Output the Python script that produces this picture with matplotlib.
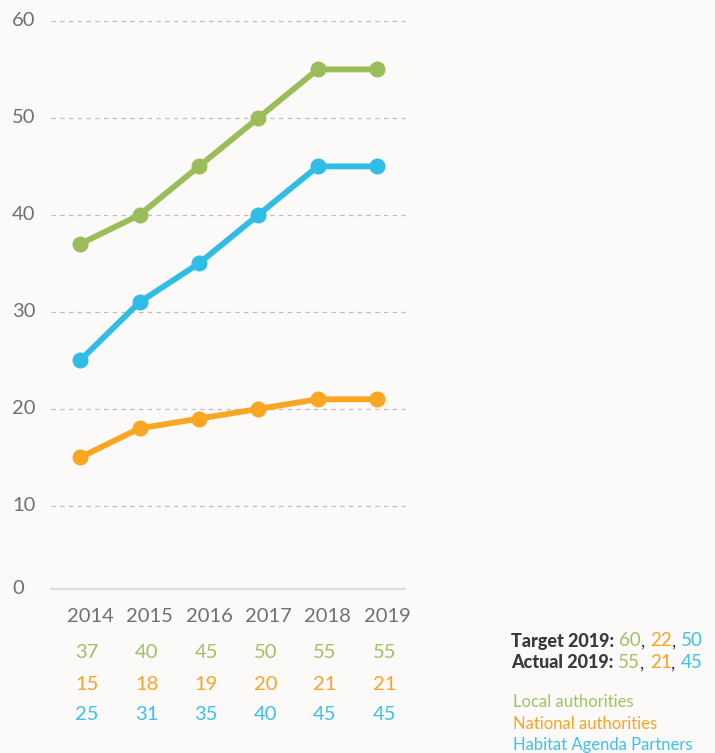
import matplotlib
matplotlib.use('Agg')
import matplotlib.pyplot as plt
from matplotlib import transforms

years = [2014, 2015, 2016, 2017, 2018, 2019]
local = [37, 40, 45, 50, 55, 55]
national = [15, 18, 19, 20, 21, 21]
partners = [25, 31, 35, 40, 45, 45]
yticks = [10, 20, 30, 40, 50, 60]

target_2019 = [60, 22, 50]
actual_2019 = [55, 21, 45]
series_names = ['Local authorities', 'National authorities', 'Habitat Agenda Partners']

green = '#9bbd59'
orange = '#f9a722'
blue = '#30bde5'
text_green = '#9fc264'
text_orange = '#f7a52a'
text_blue = '#3ec1ea'
gray = '#6f7073'
bg = '#fbfaf8'

plt.rcParams['font.family'] = ['Lato', 'DejaVu Sans']

W, H = 715, 753
fig = plt.figure(figsize=(W / 100, H / 100), dpi=100, facecolor=bg)

# axes box in pixels: left 51, right 405, bottom 589, top 18
ax = fig.add_axes([51 / W, 1 - 589 / H, (405 - 51) / W, (589 - 18) / H])
ax.set_facecolor(bg)
ax.set_xlim(2013.51, 2019.47)
ax.set_ylim(1.44, 60.3)

for v in yticks:
    ax.plot([2013.51, 2019.47], [v, v], color='#bdbdbd', lw=0.9,
            dashes=(3.5, 3.5), zorder=1, clip_on=False)

for vals, c in [(local, green), (partners, blue), (national, orange)]:
    ax.plot(years, vals, color=c, lw=4.2, marker='o', markersize=10.5,
            solid_capstyle='round', zorder=3)

for s in ['top', 'right', 'left']:
    ax.spines[s].set_visible(False)
ax.spines['bottom'].set_color('#dcdde0')
ax.spines['bottom'].set_linewidth(1.6)
ax.set_xticks([])
ax.set_yticks([])

# y labels, left aligned at the figure edge
ytr = transforms.blended_transform_factory(fig.transFigure, ax.transData)
for v in yticks:
    ax.text(12 / W, v, str(v), transform=ytr, ha='left', va='center',
            fontsize=14.5, color=gray)
ax.text(12 / W, 1.44, '0', transform=ytr, ha='left', va='center',
        fontsize=14.5, color=gray)

# year labels and value table under the axis
xtr = transforms.blended_transform_factory(ax.transData, fig.transFigure)
rows = [(local, text_green, 652), (national, text_orange, 684), (partners, text_blue, 715)]
for i, yr in enumerate(years):
    ax.text(yr + 0.17, 1 - 616 / H, str(yr), transform=xtr, ha='center',
            va='center', fontsize=14.5, color=gray)
    for vals, c, py in rows:
        ax.text(yr + 0.12, 1 - py / H, str(vals[i]), transform=xtr, ha='center',
                va='center', fontsize=14.5, color=c)

# summary text on the right, pieces placed one after another
fig.canvas.draw()
renderer = fig.canvas.get_renderer()
cols = [text_green, text_orange, text_blue]
for label, vals, py in [('Target 2019:', target_2019, 641), ('Actual 2019:', actual_2019, 663)]:
    x = 511
    t = fig.text(x / W, 1 - py / H, label, ha='left', va='center',
                 fontsize=13, fontweight='black', color='#3a3a3c')
    x = t.get_window_extent(renderer).x1 + 5
    for j, v in enumerate(vals):
        t = fig.text(x / W, 1 - py / H, str(v), ha='left', va='center',
                     fontsize=13.5, color=cols[j])
        x = t.get_window_extent(renderer).x1
        if j < 2:
            t = fig.text(x / W, 1 - py / H, ',', ha='left', va='center',
                         fontsize=13.5, color='#3a3a3c')
            x = t.get_window_extent(renderer).x1 + 5

for name, c, py in zip(series_names, cols, [702, 724, 745]):
    fig.text(513 / W, 1 - py / H, name, ha='left', va='center',
             fontsize=12, color=c)

fig.savefig('out.png', dpi=100, facecolor=bg)
